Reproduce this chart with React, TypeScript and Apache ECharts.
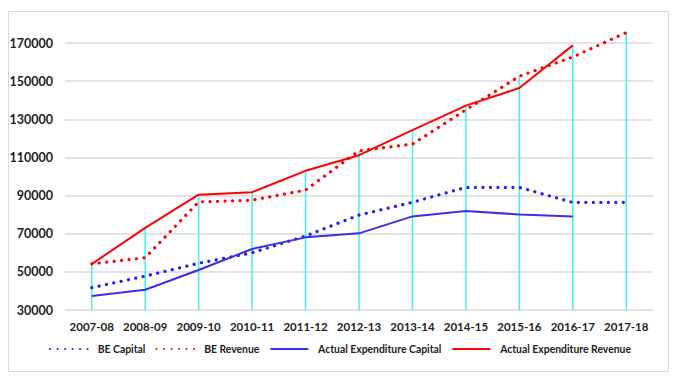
import React, { useEffect, useRef } from "react";
import * as echarts from "echarts";

const categories = ["2007-08", "2008-09", "2009-10", "2010-11", "2011-12", "2012-13", "2013-14", "2014-15", "2015-16", "2016-17", "2017-18"];
const beCapital = [41700, 47800, 54500, 60000, 68800, 79800, 86500, 94300, 94300, 86400, 86400];
const beRevenue = [54200, 57400, 86700, 87600, 92900, 113500, 117000, 135000, 152600, 162700, 175500];
const actualCapital = [37300, 40600, 51000, 62000, 68100, 70200, 79100, 81900, 80100, 79100, null];
const actualRevenue = [54100, 73100, 90500, 91800, 103000, 111200, 124300, 137200, 146400, 168800, null];
const yMin = 30000;
const yMax = 180000;
const yStep = 20000;

export default function App() {
  const ref = useRef<HTMLDivElement>(null);
  useEffect(() => {
    document.body.style.margin = "0";
    const chart = echarts.init(ref.current!, null, { renderer: "svg" });
    const all = [beCapital, beRevenue, actualCapital, actualRevenue];
    const dropTops = categories.map((_, i) => {
      const vals = all.map((a) => a[i]).filter((v) => v != null) as number[];
      return [i, Math.max(...vals)];
    });
    const font = "Lato, 'Open Sans', sans-serif";
    const dotted = (color: string) => ({
      color,
      width: 3.2,
      type: [0.1, 7.4] as any,
      cap: "round" as any,
    });
    chart.setOption({
      animation: false,
      backgroundColor: "#fff",
      graphic: [
        {
          type: "rect",
          shape: { x: 8.5, y: 11.5, width: 660, height: 360 },
          style: { fill: "none", stroke: "#d9d9d9", lineWidth: 1 },
          silent: true,
        },
      ],
      grid: { left: 65, right: 27, top: 24, bottom: 72 },
      xAxis: {
        type: "category",
        data: categories,
        boundaryGap: true,
        axisLine: { show: false },
        axisTick: { show: false },
        axisLabel: { interval: 0, color: "#222", fontFamily: font, fontWeight: "bold", fontSize: 11.5, margin: 10 },
      },
      yAxis: {
        type: "value",
        min: yMin,
        max: yMax,
        interval: yStep,
        axisLine: { show: false },
        axisTick: { show: false },
        axisLabel: {
          color: "#222",
          fontFamily: font,
          fontWeight: "bold",
          fontSize: 12.5,
          margin: 12,
          showMaxLabel: false,
          formatter: (v: number) => String(v),
        },
        splitLine: { show: true, showMaxLine: false, lineStyle: { color: "#d9d9d9", width: 1.5 } },
      },
      legend: {
        show: true,
        bottom: 23,
        left: "center",
        itemWidth: 38,
        itemHeight: 12,
        itemGap: 10,
        itemStyle: { opacity: 0 },
        data: ["BE Capital", "BE Revenue", "Actual Expenditure Capital", "Actual Expenditure Revenue"],
        textStyle: { color: "#222", fontFamily: font, fontWeight: "bold", fontSize: 10.4, padding: [0, 0, 0, 4.7] },
      },
      series: [
        {
          type: "custom",
          name: "drop",
          z: 1,
          silent: true,
          data: dropTops,
          renderItem: (params: any, api: any) => {
            const i = api.value(0);
            const top = api.coord([i, api.value(1)]);
            const bottom = api.coord([i, yMin]);
            return {
              type: "line",
              shape: { x1: top[0], y1: top[1], x2: bottom[0], y2: bottom[1] },
              style: { stroke: "#45ecf2", lineWidth: 1.5 },
            };
          },
        },
        {
          type: "line",
          name: "BE Capital",
          data: beCapital,
          symbol: "none",
          z: 3,
          lineStyle: dotted("#1e1eff"),
          itemStyle: { color: "#1e1eff" },
        },
        {
          type: "line",
          name: "BE Revenue",
          data: beRevenue,
          symbol: "none",
          z: 3,
          lineStyle: dotted("#ff0000"),
          itemStyle: { color: "#ff0000" },
        },
        {
          type: "line",
          name: "Actual Expenditure Capital",
          data: actualCapital,
          symbol: "none",
          z: 3,
          lineStyle: { color: "#3a2ee6", width: 2 },
          itemStyle: { color: "#3a2ee6" },
        },
        {
          type: "line",
          name: "Actual Expenditure Revenue",
          data: actualRevenue,
          symbol: "none",
          z: 3,
          lineStyle: { color: "#ff0000", width: 2 },
          itemStyle: { color: "#ff0000" },
        },
      ],
    });
    return () => chart.dispose();
  }, []);
  return <div ref={ref} style={{ position: "fixed", left: 0, top: 0, width: 680, height: 382 }} />;
}
